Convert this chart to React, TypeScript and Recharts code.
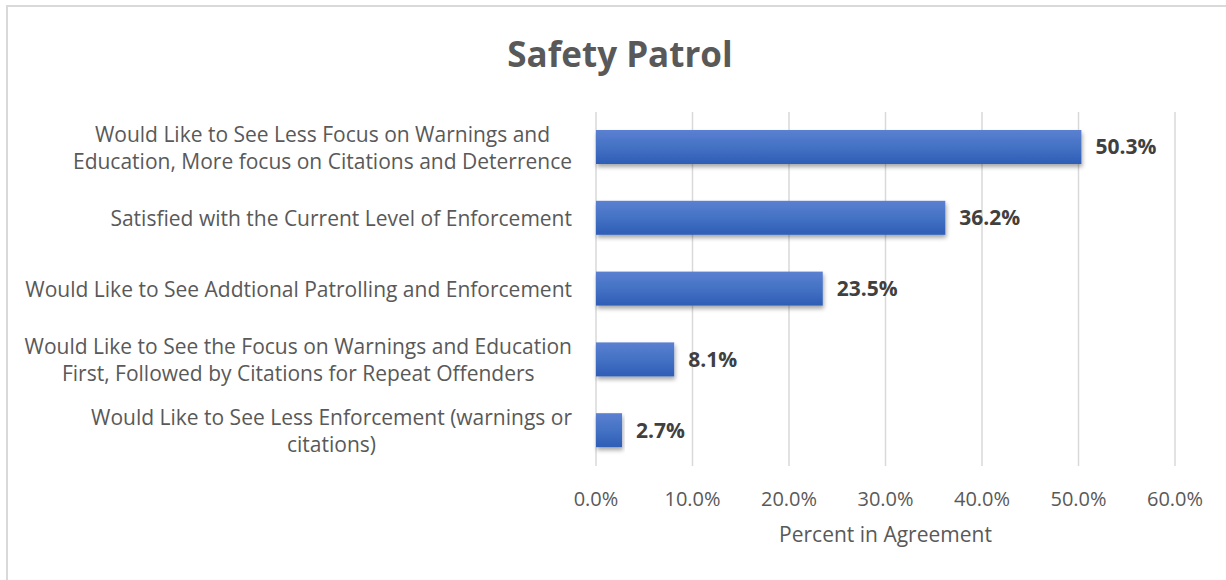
import React from "react";
import { BarChart, Bar, XAxis, YAxis, CartesianGrid, LabelList } from "recharts";

const categories = [
  "Would Like to See Less Focus on Warnings and\nEducation, More focus on Citations and Deterrence",
  "Satisfied with the Current Level of Enforcement",
  "Would Like to See Addtional Patrolling and Enforcement",
  "Would Like to See the Focus on Warnings and Education\nFirst, Followed by Citations for Repeat Offenders",
  "Would Like to See Less Enforcement (warnings or\ncitations)",
];
const values = [0.503, 0.362, 0.235, 0.081, 0.027];
const xTicks = [0, 0.1, 0.2, 0.3, 0.4, 0.5, 0.6];

const data = categories.map((name, i) => ({ name, value: values[i] }));

const FONT = "'Open Sans', sans-serif";
const INK = "#595959";
const GRID = "#d9d9d9";
const CAT_SIZE = 21;

const pct = (v: number) => `${(v * 100).toFixed(1)}%`;

let ctx: CanvasRenderingContext2D | null = null;
function textWidth(s: string) {
  if (!ctx) {
    ctx = document.createElement("canvas").getContext("2d");
  }
  if (!ctx) return s.length * CAT_SIZE * 0.5;
  ctx.font = `${CAT_SIZE}px 'Open Sans'`;
  return ctx.measureText(s).width;
}

// multi-line labels: lines centred on each other, block right-aligned to the axis
function CategoryTick(props: any) {
  const { x, y, payload } = props;
  const lines = String(payload.value).split("\n");
  const lh = 27;
  const right = x - 16;
  const w = Math.max(...lines.map(textWidth));
  const cx = right - w / 2;
  const y0 = y - ((lines.length - 1) * lh) / 2;
  return (
    <text textAnchor="middle" fill={INK} fontSize={CAT_SIZE} fontFamily={FONT} dominantBaseline="central">
      {lines.map((l, i) => (
        <tspan key={i} x={cx} y={y0 + i * lh}>
          {l}
        </tspan>
      ))}
    </text>
  );
}

function ShadowBar(props: any) {
  const { x, y, width, height } = props;
  return <rect x={x} y={y} width={width} height={height} fill="url(#barGrad)" filter="url(#barShadow)" />;
}

export default function App() {
  return (
    <div style={{ position: "fixed", left: 0, top: 0, width: 1226, height: 580, overflow: "hidden", background: "#fff" }}>
      <div
        style={{
          position: "absolute",
          left: 6,
          top: 5,
          width: 1260,
          height: 620,
          border: `2px solid ${GRID}`,
          boxSizing: "border-box",
        }}
      />
      <div
        style={{
          position: "absolute",
          left: 0,
          width: 1240,
          top: 30,
          textAlign: "center",
          fontFamily: FONT,
          fontWeight: 700,
          fontSize: 35,
          lineHeight: "48px",
          color: INK,
        }}
      >
        Safety Patrol
      </div>
      <div style={{ position: "absolute", left: 0, top: 0 }}>
        <BarChart
          width={1226}
          height={580}
          data={data}
          layout="vertical"
          margin={{ top: 112, right: 51, left: 0, bottom: 64 }}
        >
          <defs>
            <linearGradient id="barGrad" x1="0" y1="0" x2="0" y2="1">
              <stop offset="0%" stopColor="#5b80d1" />
              <stop offset="50%" stopColor="#4472c4" />
              <stop offset="100%" stopColor="#2e5db6" />
            </linearGradient>
            <filter id="barShadow" x="-10%" y="-30%" width="120%" height="170%">
              <feDropShadow dx="1" dy="3" stdDeviation="2" floodColor="#000" floodOpacity="0.35" />
            </filter>
          </defs>
          <CartesianGrid stroke={GRID} strokeWidth={1.5} horizontal={false} />
          <XAxis
            type="number"
            domain={[0, 0.6]}
            ticks={xTicks}
            tickFormatter={pct}
            axisLine={false}
            tickLine={false}
            tickMargin={20}
            height={50}
            tick={{ fill: INK, fontSize: 20, fontFamily: FONT }}
            label={{ value: "Percent in Agreement", position: "bottom", offset: 11, fill: INK, fontSize: 21, fontFamily: FONT }}
          />
          <YAxis
            type="category"
            dataKey="name"
            width={596}
            axisLine={false}
            tickLine={false}
            tick={<CategoryTick />}
            interval={0}
          />
          <Bar dataKey="value" barSize={34} shape={<ShadowBar />} isAnimationActive={false}>
            <LabelList
              dataKey="value"
              position="right"
              offset={14}
              formatter={(v: any) => pct(Number(v))}
              fill="#404040"
              fontSize={21}
              fontWeight={700}
              fontFamily={FONT}
            />
          </Bar>
        </BarChart>
      </div>
    </div>
  );
}
